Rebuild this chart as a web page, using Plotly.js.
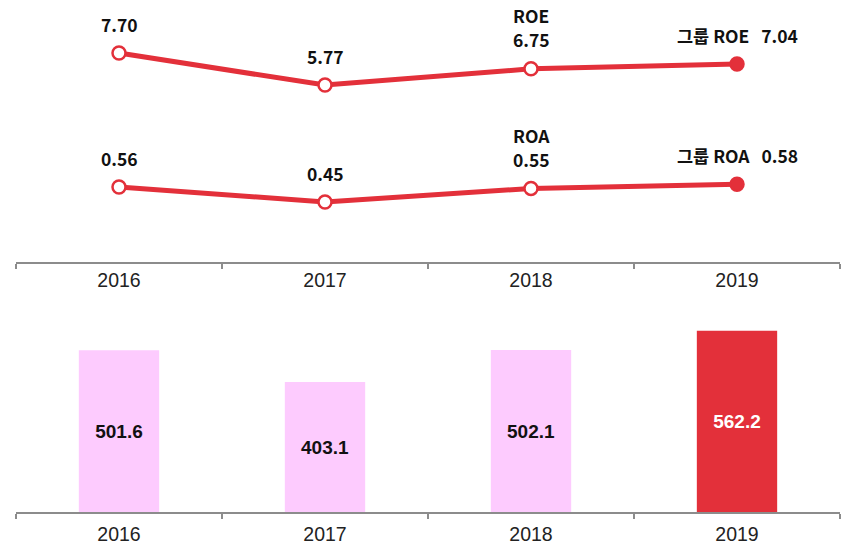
<!DOCTYPE html>
<html>
<head>
<meta charset="utf-8">
<script src="https://cdn.plot.ly/plotly-3.0.1.min.js"></script>
<style>html,body{margin:0;padding:0;background:#fff;}#chart{width:848px;height:545px;}</style>
</head>
<body>
<div id="chart"></div>
<script>
const years = ['2016', '2017', '2018', '2019'];
const roe = [7.70, 5.77, 6.75, 7.04];
const roa = [0.56, 0.45, 0.55, 0.58];
const assets = [501.6, 403.1, 502.1, 562.2];
const roeName = 'ROE';
const roaName = 'ROA';
const groupPrefix = '그룹';

const RED = '#E3303A';
const PINK = '#FDCBFE';
const AXIS = '#8c8c8c';
const LABEL_FONT = 'Noto Sans CJK KR';
const NUM_FONT = 'Liberation Sans';

const H = 545, W = 848;
const xDomain = [16 / W, 840 / W];

const markerColors = years.map((_, i) => i === years.length - 1 ? RED : '#ffffff');

function lineTrace(vals, yaxis) {
  return {
    type: 'scatter', mode: 'lines+markers', x: years, y: vals, xaxis: 'x', yaxis: yaxis,
    line: {color: RED, width: 5},
    marker: {symbol: 'circle', size: 13, color: markerColors, line: {color: RED, width: 2.5}},
    cliponaxis: false, hoverinfo: 'skip'
  };
}

const traces = [
  lineTrace(roe, 'y'),
  lineTrace(roa, 'y2'),
  {
    type: 'bar', x: years, y: assets, xaxis: 'x2', yaxis: 'y3', width: 0.39,
    marker: {color: years.map((_, i) => i === years.length - 1 ? RED : PINK)},
    text: assets.map(v => v.toFixed(1)), textposition: 'inside', insidetextanchor: 'middle',
    textangle: 0, constraintext: 'none',
    textfont: {family: NUM_FONT, size: 19, weight: 'bold', color: years.map((_, i) => i === years.length - 1 ? '#ffffff' : '#111111')},
    hoverinfo: 'skip'
  }
];

const annotations = [];
function addLabels(vals, name, yref) {
  vals.forEach((v, i) => {
    const last = i === vals.length - 1;
    annotations.push({
      x: i, y: v, xref: 'x', yref: yref, showarrow: false, yshift: 29,
      text: '<b>' + (last ? groupPrefix + ' ' + name + '\u00a0\u00a0\u00a0' + v.toFixed(2) : v.toFixed(2)) + '</b>',
      font: {family: LABEL_FONT, size: 17.5, color: '#111'}
    });
    if (i === vals.length - 2) {
      annotations.push({
        x: i, y: v, xref: 'x', yref: yref, showarrow: false, yshift: 53,
        text: '<b>' + name + '</b>',
        font: {family: LABEL_FONT, size: 17.5, color: '#111'}
      });
    }
  });
}
addLabels(roe, roeName, 'y');
addLabels(roa, roaName, 'y2');

const xCommon = {
  type: 'category', domain: xDomain, range: [-0.5, 3.5], fixedrange: true,
  showline: true, linecolor: AXIS, linewidth: 1.5, showgrid: false, zeroline: false,
  ticks: 'outside', ticklen: 5, tickwidth: 1.5, tickcolor: AXIS, tickson: 'boundaries',
  tickfont: {family: NUM_FONT, size: 19.5, color: '#222'}
};

const layout = {
  width: W, height: H, margin: {l: 0, r: 0, t: 0, b: 0},
  paper_bgcolor: '#ffffff', plot_bgcolor: 'rgba(0,0,0,0)', showlegend: false,
  xaxis: Object.assign({}, xCommon, {anchor: 'y'}),
  xaxis2: Object.assign({}, xCommon, {anchor: 'y3', ticklabelstandoff: 4}),
  yaxis: {domain: [1 - 262 / H, 1], range: [-4.9, 10.9], visible: false, fixedrange: true},
  yaxis2: {domain: [1 - 262 / H, 1], range: [0.009, 1.935], overlaying: 'y', visible: false, fixedrange: true},
  yaxis3: {domain: [1 - 512 / H, 1 - 300 / H], range: [0, 657.4], visible: false, fixedrange: true, anchor: 'x2'},
  annotations: annotations
};

Plotly.newPlot('chart', traces, layout, {displayModeBar: false, staticPlot: true});
</script>
</body>
</html>
